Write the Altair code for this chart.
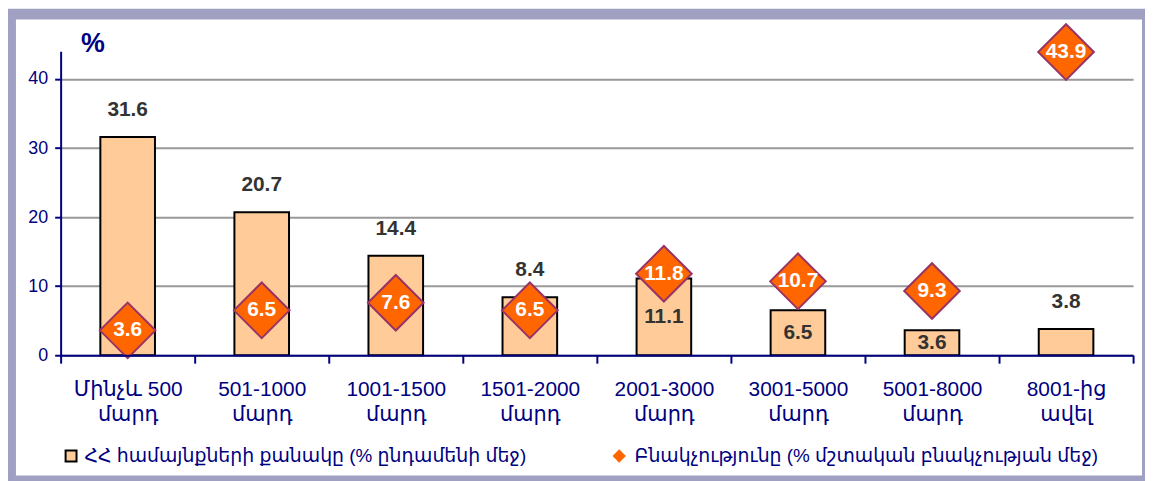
import altair as alt
import pandas as pd

# ---- data ----
cat_line1 = ["Մինչև 500", "501-1000", "1001-1500", "1501-2000",
             "2001-3000", "3001-5000", "5001-8000", "8001-ից"]
cat_line2 = ["մարդ", "մարդ", "մարդ", "մարդ", "մարդ", "մարդ", "մարդ", "ավել"]
communities = [31.6, 20.7, 14.4, 8.4, 11.1, 6.5, 3.6, 3.8]
population = [3.6, 6.5, 7.6, 6.5, 11.8, 10.7, 9.3, 43.9]
label_inside = [False, False, False, False, True, True, True, False]
y_ticks = [0, 10, 20, 30, 40]
series_bar = "ՀՀ համայնքների քանակը (% ընդամենի մեջ)"
series_pt = "Բնակչությունը (% մշտական բնակչության մեջ)"
y_title = "%"

NAVY = "#000080"
PEACH = "#FFCC99"
ORANGE = "#FF6600"
PURPLE = "#993366"
FRAME = "#A0A0C2"

categories = [a + "|" + b for a, b in zip(cat_line1, cat_line2)]
df = pd.DataFrame({
    "cat": categories,
    "communities": communities,
    "population": population,
    "inside": label_inside,
    "series_bar": [series_bar] * len(categories),
    "series_pt": [series_pt] * len(categories),
})

x_enc = alt.X(
    "cat:N", sort=categories,
    scale=alt.Scale(paddingInner=0, paddingOuter=0),
    axis=alt.Axis(
        title=None, labelAngle=0, labelExpr="split(datum.label, '|')",
        labelFontSize=21, labelColor=NAVY, labelLineHeight=25, labelPadding=16,
        domainColor=NAVY, domainWidth=2, tickColor=NAVY, tickWidth=2, tickSize=8,
        tickBand="extent", grid=False, zindex=1,
    ),
)
y_scale = alt.Scale(domain=[0, 44], nice=False)
y_axis = alt.Axis(
    values=y_ticks, grid=True, gridColor="#999999", gridWidth=2,
    domainColor=NAVY, domainWidth=2, tickColor=NAVY, tickWidth=2, tickSize=6,
    labelColor=NAVY, labelFontSize=18, labelPadding=7,
    title=y_title, titleAngle=0, titleX=32, titleY=-8, titleAlign="center",
    titleBaseline="middle", titleFontSize=27, titleFontWeight="bold", titleColor=NAVY,
)

base = alt.Chart(df)

frame = alt.Chart(pd.DataFrame({"a": [0]})).mark_rect(
    fillOpacity=0, stroke=FRAME, strokeWidth=11
).encode(
    x=alt.value(-50.5), x2=alt.value(1094.5), y=alt.value(-37.5), y2=alt.value(432.5)
)

bars = base.mark_bar(size=55, stroke="black", strokeWidth=2).encode(
    x=x_enc,
    y=alt.Y("communities:Q", scale=y_scale, axis=y_axis),
    color=alt.Color(
        "series_bar:N",
        scale=alt.Scale(domain=[series_bar], range=[PEACH]),
        legend=alt.Legend(
            orient="none", legendX=1, legendY=398, title=None, padding=0,
            symbolType="square", symbolSize=121, symbolStrokeColor="black",
            symbolStrokeWidth=2, symbolFillColor=PEACH, symbolOpacity=1,
            labelFontSize=19, labelColor=NAVY, labelOffset=4, labelLimit=0,
        ),
    ),
)

labels_above = base.transform_filter("!datum.inside").mark_text(
    fontSize=21, fontWeight="bold", color="#333333", dy=-27, baseline="middle"
).encode(
    x=alt.X("cat:N", sort=categories),
    y="communities:Q",
    text=alt.Text("communities:Q", format=".1f"),
)

labels_inside = base.transform_filter("datum.inside").transform_calculate(
    mid="datum.communities / 2"
).mark_text(
    fontSize=21, fontWeight="bold", color="#333333", baseline="middle"
).encode(
    x=alt.X("cat:N", sort=categories),
    y="mid:Q",
    text=alt.Text("communities:Q", format=".1f"),
)

points = base.mark_point(
    filled=True, size=3136, fill=ORANGE, stroke=PURPLE, strokeWidth=2,
    opacity=1, fillOpacity=1,
).encode(
    x=alt.X("cat:N", sort=categories),
    y="population:Q",
    shape=alt.Shape(
        "series_pt:N",
        scale=alt.Scale(domain=[series_pt], range=["diamond"]),
        legend=alt.Legend(
            orient="none", legendX=553, legendY=398, title=None, padding=0,
            symbolSize=180, symbolFillColor=ORANGE, symbolStrokeColor=PURPLE,
            symbolStrokeWidth=1.5, symbolOpacity=1,
            labelFontSize=19, labelColor=NAVY, labelOffset=6, labelLimit=0,
        ),
    ),
)

pt_labels = base.mark_text(
    fontSize=21, fontWeight="bold", color="white", baseline="middle"
).encode(
    x=alt.X("cat:N", sort=categories),
    y="population:Q",
    text=alt.Text("population:Q", format=".1f"),
)

chart = alt.layer(
    frame, bars, labels_above, labels_inside, points, pt_labels
).resolve_legend(color="independent", shape="independent").properties(
    width=1080, height=306,
    autosize=alt.AutoSizeParams(type="none"),
    padding={"left": 53, "top": 42, "right": 12, "bottom": 125},
    background="white",
).configure(
    font="Liberation Sans, Arial, DejaVu Sans, sans-serif",
).configure_view(stroke=None)

chart.save("out.html", embed_options={"renderer": "svg", "actions": False})
